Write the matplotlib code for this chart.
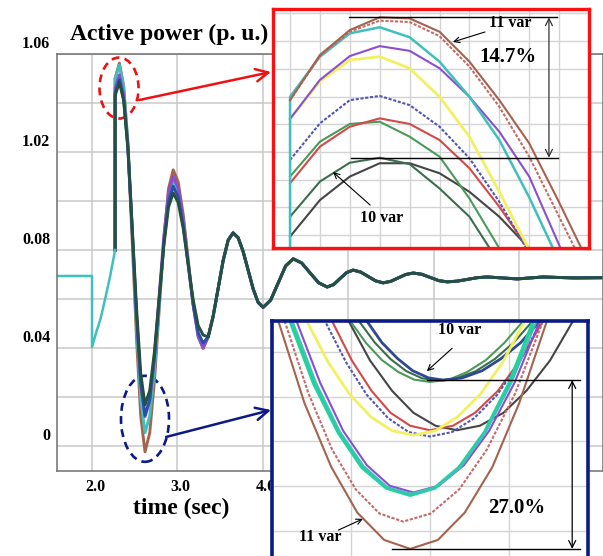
import matplotlib
matplotlib.use('Agg')
import matplotlib.pyplot as plt
from matplotlib.patches import Ellipse
from matplotlib.transforms import ScaledTranslation

# ---------------- main chart data (p.u. vs time) ----------------
t_pre = [1.59, 2.0, 2.0, 2.05, 2.1, 2.15, 2.21, 2.27]
p_pre = [0.9694, 0.9694, 0.9404, 0.9465, 0.9520, 0.9595, 0.9690, 0.9800]

t_osc = [2.27, 2.32, 2.37, 2.42, 2.47, 2.52, 2.57, 2.62, 2.675, 2.73, 2.785,
         2.84, 2.895, 2.95, 3.008, 3.067, 3.125, 3.183, 3.242, 3.30]
p_brown = [1.050, 1.0563, 1.0470, 1.0226, 0.9839, 0.9443, 0.9122, 0.8976, 0.9053, 0.9264,
           0.9552, 0.9839, 1.0050, 1.0127, 1.0078, 0.9945, 0.9762, 0.9580, 0.9447, 0.9398]
p_cyan = [1.050, 1.0555, 1.0467, 1.0240, 0.9874, 0.9499, 0.9195, 0.9054, 0.9123, 0.9312,
          0.9570, 0.9827, 1.0016, 1.0085, 1.0040, 0.9917, 0.9750, 0.9582, 0.9460, 0.9415]
p_purple = [1.046, 1.0515, 1.0435, 1.0226, 0.9887, 0.9539, 0.9253, 0.9120, 0.9186, 0.9365,
            0.9610, 0.9855, 1.0034, 1.0100, 1.0053, 0.9925, 0.9750, 0.9575, 0.9447, 0.9400]
p_blue = [1.044, 1.0495, 1.0416, 1.0212, 0.9880, 0.9537, 0.9257, 0.9125, 0.9188, 0.9359,
          0.9593, 0.9826, 0.9997, 1.0060, 1.0017, 0.9900, 0.9740, 0.9580, 0.9463, 0.9420]
p_dkgreen = [1.043, 1.0485, 1.0410, 1.0216, 0.9896, 0.9567, 0.9296, 0.9168, 0.9226, 0.9384,
             0.9601, 0.9817, 0.9975, 1.0033, 0.9994, 0.9888, 0.9743, 0.9598, 0.9492, 0.9453]

t_tail = [3.359, 3.417, 3.476, 3.534, 3.593, 3.651, 3.710, 3.768, 3.827, 3.885, 3.944, 4.002,
          4.090, 4.178, 4.266, 4.354, 4.454, 4.553, 4.653, 4.752, 4.828, 4.904, 4.980, 5.056,
          5.144, 5.232, 5.319, 5.407, 5.495, 5.583, 5.671, 5.759, 5.859, 5.958, 6.058, 6.157,
          6.274, 6.391, 6.508, 6.625, 6.80, 6.977, 7.13, 7.28, 7.45, 7.65, 7.98]
p_tail = [0.9445, 0.9529, 0.9643, 0.9756, 0.9840, 0.9870, 0.9850, 0.9794, 0.9718, 0.9642, 0.9586, 0.9566,
          0.9595, 0.9665, 0.9735, 0.9764, 0.9747, 0.9706, 0.9666, 0.9649, 0.9659, 0.9684, 0.9708, 0.9718,
          0.9710, 0.9692, 0.9674, 0.9666, 0.9672, 0.9686, 0.9700, 0.9706, 0.9701, 0.9688, 0.9675, 0.9670,
          0.9673, 0.9680, 0.9687, 0.9690, 0.9686, 0.9682, 0.9686, 0.9690, 0.9688, 0.9686, 0.9687]

xticks = [2, 3, 4, 5, 6, 7]
xtick_labels = ['2.0', '3.0', '4.0', '5.0', '6.0', '7.0']
yticks = [0.90, 0.92, 0.94, 0.96, 0.98, 1.00, 1.02, 1.04, 1.06]
ytick_labels = ['0', '', '0.04', '', '0.08', '', '1.02', '', '1.06']

# ---------------- zoom 1 (peak), sample index vs divisions ----------------
z1_x = [0, 1, 2, 3, 4, 5, 6, 7, 8, 9, 10]
z1_brown = [4.87, 6.50, 7.40, 7.86, 7.82, 7.34, 6.26, 4.87, 3.31, 1.18, -1.05]
z1_rosy = [4.87, 6.46, 7.34, 7.74, 7.69, 7.18, 6.08, 4.63, 2.83, 0.66, -1.50]
z1_cyan = [4.99, 6.44, 7.28, 7.50, 7.14, 6.26, 4.99, 3.43, 1.36, -0.95, -3.25]
z1_purple = [4.19, 5.60, 6.46, 6.82, 6.65, 6.02, 4.99, 3.73, 2.11, -0.36, -2.71]
z1_yellow = [4.19, 5.54, 6.32, 6.44, 6.02, 4.99, 3.55, 1.56, -0.54, -2.83, -5.11]
z1_bluedot = [2.71, 4.03, 4.87, 5.02, 4.69, 3.91, 2.77, 1.20, -0.66, -2.71, -4.75]
z1_red = [1.87, 3.19, 3.91, 4.21, 4.01, 3.43, 2.41, 1.02, -0.54, -2.35, -4.15]
z1_green = [2.11, 3.37, 4.01, 4.09, 3.55, 2.83, 1.32, -0.48, -2.35, -4.20, -6.00]
z1_dkgreen = [0.66, 1.93, 2.61, 2.79, 2.56, 1.68, 0.66, -1.02, -2.71, -4.39, -6.08]
z1_gray = [-0.06, 1.26, 2.11, 2.59, 2.59, 2.23, 1.56, 0.66, -0.48, -1.74, -3.07]

# ---------------- zoom 2 (trough) ----------------
z2_brown_x = [-0.17, 0.08, 0.41, 0.75, 1.08, 1.42, 1.75, 2.10, 2.44, 2.79, 3.13, 3.48, 3.74]
z2_brown_y = [6.33, 4.69, 2.86, 1.43, 0.41, -0.20, -0.40, -0.20, 0.41, 1.43, 2.86, 4.69, 6.33]
z2_rosy_x = [-0.07, 0.16, 0.46, 0.76, 1.06, 1.36, 1.66, 2.01, 2.37, 2.72, 3.08, 3.43, 3.70]
z2_rosy_y = [6.13, 4.69, 3.08, 1.82, 0.93, 0.39, 0.21, 0.39, 0.93, 1.82, 3.08, 4.69, 6.13]
z2_spring_x = [0.00, 0.23, 0.53, 0.84, 1.14, 1.45, 1.75, 2.06, 2.37, 2.69, 3.00, 3.31, 3.54]
z2_spring_y = [5.94, 4.69, 3.29, 2.20, 1.42, 0.96, 0.80, 0.96, 1.42, 2.20, 3.29, 4.69, 5.94]
z2_cyan_x = [0.04, 0.26, 0.56, 0.86, 1.16, 1.46, 1.76, 2.08, 2.40, 2.71, 3.03, 3.35, 3.59]
z2_cyan_y = [5.93, 4.69, 3.30, 2.22, 1.45, 0.98, 0.83, 0.98, 1.45, 2.22, 3.30, 4.69, 5.93]
z2_purple_x = [0.09, 0.31, 0.61, 0.90, 1.20, 1.49, 1.79, 2.11, 2.43, 2.75, 3.07, 3.39, 3.63]
z2_purple_y = [5.93, 4.69, 3.31, 2.24, 1.47, 1.01, 0.86, 1.01, 1.47, 2.24, 3.31, 4.69, 5.93]
z2_yellow_x = [0.24, 0.44, 0.71, 0.98, 1.25, 1.52, 1.79, 2.07, 2.35, 2.64, 2.92, 3.20, 3.41]
z2_yellow_y = [5.51, 4.69, 3.77, 3.06, 2.55, 2.24, 2.14, 2.24, 2.55, 3.06, 3.77, 4.69, 5.51]
z2_bluedot_x = [0.47, 0.67, 0.94, 1.20, 1.47, 1.73, 2.00, 2.28, 2.56, 2.85, 3.13, 3.41, 3.62]
z2_bluedot_y = [5.52, 4.69, 3.76, 3.04, 2.52, 2.21, 2.11, 2.21, 2.52, 3.04, 3.76, 4.69, 5.52]
z2_red_x = [0.57, 0.76, 1.01, 1.26, 1.50, 1.75, 2.00, 2.29, 2.57, 2.86, 3.14, 3.43, 3.65]
z2_red_y = [5.48, 4.69, 3.81, 3.13, 2.64, 2.35, 2.25, 2.35, 2.64, 3.13, 3.81, 4.69, 5.48]
z2_gray_x = [0.76, 0.97, 1.24, 1.52, 1.79, 2.07, 2.34, 2.63, 2.93, 3.22, 3.52, 3.81, 4.03]
z2_gray_y = [5.48, 4.69, 3.81, 3.13, 2.64, 2.35, 2.25, 2.35, 2.64, 3.13, 3.81, 4.69, 5.48]
z2_green_x = [0.84, 0.99, 1.19, 1.39, 1.60, 1.80, 2.00, 2.24, 2.47, 2.71, 2.94, 3.18, 3.36]
z2_green_y = [5.13, 4.69, 4.20, 3.82, 3.55, 3.38, 3.33, 3.38, 3.55, 3.82, 4.20, 4.69, 5.13]
z2_dkgreen_x = [0.95, 1.10, 1.30, 1.50, 1.70, 1.90, 2.10, 2.34, 2.58, 2.82, 3.06, 3.30, 3.48]
z2_dkgreen_y = [5.12, 4.69, 4.21, 3.84, 3.57, 3.41, 3.36, 3.41, 3.57, 3.84, 4.21, 4.69, 5.12]
z2_navy_x = [1.05, 1.20, 1.39, 1.59, 1.78, 1.98, 2.17, 2.41, 2.66, 2.90, 3.15, 3.39, 3.57]
z2_navy_y = [5.12, 4.69, 4.21, 3.85, 3.58, 3.42, 3.37, 3.42, 3.58, 3.85, 4.21, 4.69, 5.12]

# ---------------- colours ----------------
C_BROWN = '#a5634e'
C_ROSY = '#c46a6a'
C_CYAN = '#3fc0bc'
C_SPRING = '#1fd39a'
C_PURPLE = '#8a4fcf'
C_YELLOW = '#f2f060'
C_BLUEDOT = '#4f55b5'
C_RED = '#d24a48'
C_GREEN = '#4a9a5a'
C_DKGREEN = '#3a6e4e'
C_GRAY = '#454545'
C_NAVY = '#2e4a8e'
C_MAIN_BLUE = '#2a4fa8'
C_MAIN_DK = '#24503f'

W, H = 603, 556
plt.rcParams['font.family'] = ['Liberation Serif', 'DejaVu Serif']
plt.rcParams['font.weight'] = 'bold'
fig = plt.figure(figsize=(W / 100, H / 100), dpi=100)
fig.patch.set_facecolor('white')

# ---------------- main axes ----------------
ax = fig.add_axes([57 / W, 1 - 471 / H, (W - 57) / W, (471 - 54) / H])
ax.set_xlim(1.59, 7.98)
ax.set_ylim(0.8898, 1.06)
ax.set_xticks(xticks)
ax.set_xticklabels(xtick_labels)
ax.set_yticks(yticks)
ax.set_yticklabels(ytick_labels)
ax.tick_params(length=0, labelsize=11.5, pad=5)
ax.tick_params(axis='x', pad=6)
for lbl in ax.get_yticklabels():
    lbl.set_fontweight('bold')
    lbl.set_transform(lbl.get_transform() + ScaledTranslation(0, 12 / 100, fig.dpi_scale_trans))
for lbl in ax.get_xticklabels():
    lbl.set_fontweight('bold')
    lbl.set_transform(lbl.get_transform() + ScaledTranslation(3 / 100, 0, fig.dpi_scale_trans))
ax.grid(True, color='#c9c9c9', lw=1.1)
ax.set_axisbelow(True)
for s in ax.spines.values():
    s.set_color('#707070')
    s.set_linewidth(1.1)

main_series = [(p_brown, C_BROWN), (p_cyan, C_CYAN), (p_purple, C_PURPLE),
               (p_blue, C_MAIN_BLUE), (p_dkgreen, C_MAIN_DK)]
for vals, col in main_series:
    ax.plot([t_pre[-1]] + t_osc + t_tail, [p_pre[-1]] + vals + p_tail,
            color=col, lw=2.1, solid_joinstyle='round')
ax.plot(t_pre, p_pre, color=C_CYAN, lw=1.8)

ax.add_patch(Ellipse((2.316, 1.0461), 0.457, 0.0249, fill=False, edgecolor='#ee1111',
                     lw=1.9, ls=(0, (3, 2))))
ax.add_patch(Ellipse((2.62, 0.9111), 0.562, 0.0351, fill=False, edgecolor='#0b1a85',
                     lw=1.9, ls=(0, (3, 2))))
ax.annotate('', xy=(271 / W, 1 - 72 / H), xycoords='figure fraction',
            xytext=(2.550, 1.0412), textcoords='data',
            arrowprops=dict(arrowstyle='->,head_length=0.9,head_width=0.45', color='#ee1111',
                            lw=1.8, shrinkA=0, shrinkB=0))
ax.annotate('', xy=(271 / W, 1 - 410 / H), xycoords='figure fraction',
            xytext=(2.867, 0.9037), textcoords='data',
            arrowprops=dict(arrowstyle='->,head_length=0.9,head_width=0.45', color='#0b1a85',
                            lw=1.8, shrinkA=0, shrinkB=0))

fig.text(70 / W, 1 - 40 / H, 'Active power (p. u.)', fontsize=17, fontweight='bold',
         ha='left', va='baseline')
fig.text(181 / W, 1 - 514 / H, 'time (sec)', fontsize=17, fontweight='bold',
         ha='center', va='baseline')

# ---------------- inset 1 ----------------
a1 = fig.add_axes([273 / W, 1 - 248 / H, (589 - 273) / W, (248 - 9) / H])
a1.set_xlim(-0.57, 10.0)
a1.set_ylim(-0.47, 8.16)
a1.set_xticks(range(0, 10))
a1.set_yticks(range(0, 9))
a1.tick_params(length=0, labelbottom=False, labelleft=False)
a1.grid(True, color='#d4d4d4', lw=1.0)
a1.set_axisbelow(True)
for s in a1.spines.values():
    s.set_color('#ff1010')
    s.set_linewidth(2.4)
lw1 = 1.5
a1.plot(z1_x, z1_gray, color=C_GRAY, lw=lw1)
a1.plot(z1_x, z1_dkgreen, color=C_DKGREEN, lw=lw1)
a1.plot(z1_x, z1_green, color=C_GREEN, lw=lw1)
a1.plot(z1_x, z1_red, color=C_RED, lw=lw1)
a1.plot(z1_x, z1_bluedot, color=C_BLUEDOT, lw=lw1, ls=(0, (1.5, 0.8)))
a1.plot(z1_x, z1_yellow, color=C_YELLOW, lw=2.0)
a1.plot(z1_x, z1_purple, color=C_PURPLE, lw=lw1)
a1.plot([0] + z1_x, [-0.6] + z1_cyan, color=C_CYAN, lw=1.8)
a1.plot(z1_x, z1_rosy, color=C_ROSY, lw=lw1, ls=(0, (1.5, 0.8)))
a1.plot(z1_x, z1_brown, color=C_BROWN, lw=lw1)

top1 = max(z1_brown)
bot1 = max(z1_dkgreen)
a1.plot([1.97, 8.93], [top1, top1], color='black', lw=1.0)
a1.plot([2.04, 8.96], [bot1, bot1], color='black', lw=1.0)
a1.annotate('', xy=(8.66, top1), xytext=(8.66, bot1),
            arrowprops=dict(arrowstyle='<->,head_length=0.5,head_width=0.25', color='#333333',
                            lw=0.9, shrinkA=0, shrinkB=0))
a1.text(7.36, 7.65, '11 var', fontsize=11.5, fontweight='bold', ha='center', va='center')
a1.annotate('', xy=(5.45, 6.97), xytext=(6.52, 7.33),
            arrowprops=dict(arrowstyle='->', color='black', lw=0.8, shrinkA=0, shrinkB=0))
a1.text(7.29, 6.43, '14.7%', fontsize=15, fontweight='bold', ha='center', va='center')
a1.text(3.08, 0.61, '10 var', fontsize=11.5, fontweight='bold', ha='center', va='center')
a1.annotate('', xy=(1.44, 2.27), xytext=(2.68, 1.08),
            arrowprops=dict(arrowstyle='->', color='black', lw=0.8, shrinkA=0, shrinkB=0))

# ---------------- inset 2 ----------------
a2 = fig.add_axes([272 / W, 1 - 565 / H, (588 - 272) / W, (565 - 321) / H])
a2.set_xlim(0, 4.0)
a2.set_ylim(-0.76, 4.69)
a2.set_xticks([1, 2, 3])
a2.set_yticks([0, 1, 2, 3, 4])
a2.tick_params(length=0, labelbottom=False, labelleft=False)
a2.grid(True, color='#d4d4d4', lw=1.0)
a2.set_axisbelow(True)
for s in a2.spines.values():
    s.set_color('#0b1a85')
    s.set_linewidth(2.6)
lw2 = 1.5
a2.plot(z2_gray_x, z2_gray_y, color=C_GRAY, lw=lw2)
a2.plot(z2_green_x, z2_green_y, color=C_GREEN, lw=lw2)
a2.plot(z2_dkgreen_x, z2_dkgreen_y, color=C_DKGREEN, lw=lw2)
a2.plot(z2_navy_x, z2_navy_y, color=C_NAVY, lw=2.0)
a2.plot(z2_red_x, z2_red_y, color=C_RED, lw=lw2)
a2.plot(z2_bluedot_x, z2_bluedot_y, color=C_BLUEDOT, lw=lw2, ls=(0, (1.5, 0.8)))
a2.plot(z2_yellow_x, z2_yellow_y, color=C_YELLOW, lw=2.0)
a2.plot(z2_purple_x, z2_purple_y, color=C_PURPLE, lw=lw2)
a2.plot(z2_spring_x, z2_spring_y, color=C_SPRING, lw=2.6)
a2.plot(z2_cyan_x, z2_cyan_y, color=C_CYAN, lw=1.4)
a2.plot(z2_rosy_x, z2_rosy_y, color=C_ROSY, lw=lw2, ls=(0, (1.5, 0.8)))
a2.plot(z2_brown_x, z2_brown_y, color=C_BROWN, lw=lw2)

top2 = min(z2_navy_y)
bot2 = min(z2_brown_y)
a2.plot([1.96, 3.90], [top2, top2], color='black', lw=1.0)
a2.plot([1.52, 3.90], [bot2, bot2], color='black', lw=1.0)
a2.annotate('', xy=(3.80, top2), xytext=(3.80, bot2),
            arrowprops=dict(arrowstyle='<->,head_length=0.5,head_width=0.25', color='black',
                            lw=0.9, shrinkA=0, shrinkB=0))
a2.text(2.38, 4.49, '10 var', fontsize=11.5, fontweight='bold', ha='center', va='center')
a2.annotate('', xy=(1.96, 3.57), xytext=(2.28, 4.08),
            arrowprops=dict(arrowstyle='->', color='black', lw=0.8, shrinkA=0, shrinkB=0))
a2.text(3.10, 0.51, '27.0%', fontsize=15, fontweight='bold', ha='center', va='center')
a2.text(0.61, -0.13, '11 var', fontsize=11.5, fontweight='bold', ha='center', va='center')
a2.annotate('', xy=(1.15, 0.27), xytext=(0.84, 0.02),
            arrowprops=dict(arrowstyle='->', color='black', lw=0.8, shrinkA=0, shrinkB=0))

fig.savefig('out.png', dpi=100, facecolor='white')
